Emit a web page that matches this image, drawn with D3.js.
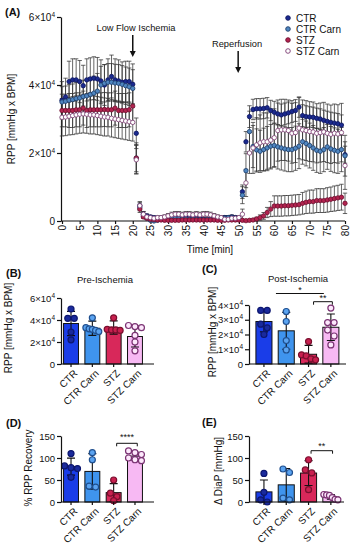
<!DOCTYPE html>
<html><head><meta charset="utf-8">
<script src="https://cdn.jsdelivr.net/npm/d3@7"></script>
<style>
body{margin:0;background:#fff}
svg{display:block}
text{font-family:"Liberation Sans",Arial,sans-serif;fill:#111}
</style>
</head><body>
<svg id="c" width="362" height="550"></svg>
<script>
// ---------------- DATA ----------------
// Panel A: RPP in units of 10^4 mmHg x BPM, one value per minute
const times = [0,1,2,3,4,5,6,7,8,9,10,11,12,13,14,15,16,17,18,19,20,21,22,23,24,25,26,27,28,29,30,31,32,33,34,35,36,37,38,39,40,41,42,43,44,45,46,47,48,49,50,51,52,53,54,55,56,57,58,59,60,61,62,63,64,65,66,67,68,69,70,71,72,73,74,75,76,77,78,79,80];
const seriesNames = ["CTR","CTR Carn","STZ","STZ Carn"];
const ctrMean = [3.55,3.65,4.1,4.15,4.15,4.1,3.98,4.15,4.18,4.2,4.18,4.12,4.0,4.15,4.25,4.15,4.12,4.08,4.1,4.1,4.02,
  2.58,0.45,
  0.2,0.15,0.12,0.1,0.08,0.08,0.07,0.08,0.1,0.12,0.12,0.1,0.1,0.1,0.08,0.08,0.08,0.05,0.05,0.06,0.05,0.05,0.08,0.1,0.1,0.12,0.1,0.08,
  0.86,2.33,3.07,3.28,3.3,3.3,3.31,3.33,3.25,3.2,3.15,3.12,3.15,3.18,3.22,3.25,3.35,3.1,3.07,3.06,3.05,3.02,3.0,2.96,2.93,2.9,2.88,2.86,2.82,1.95];
const ctrSD = [0.55,0.55,0.6,0.62,0.62,0.62,0.6,0.62,0.62,0.63,0.63,0.62,0.6,0.62,0.63,0.62,0.62,0.6,0.6,0.6,0.6,
  0.45,0.1,
  0.08,0.06,0.05,0.05,0.05,0.05,0.05,0.05,0.06,0.06,0.06,0.06,0.06,0.06,0.05,0.05,0.05,0.04,0.04,0.04,0.04,0.04,0.05,0.06,0.06,0.06,0.06,0.05,
  0.2,0.3,0.32,0.3,0.3,0.3,0.3,0.3,0.3,0.32,0.32,0.32,0.32,0.32,0.32,0.32,0.3,0.32,0.32,0.3,0.3,0.3,0.3,0.3,0.3,0.3,0.3,0.3,0.3,0.25];
const ctrCarnMean = [3.5,3.52,3.55,3.57,3.6,3.62,3.66,3.68,3.72,3.76,3.82,4.0,4.05,4.08,4.08,4.06,4.05,4.02,3.98,3.95,3.9,
  1.85,0.4,
  0.15,0.08,0.02,0.0,0.02,0.05,0.05,0.06,0.08,0.08,0.07,0.06,0.06,0.05,0.05,0.05,0.04,0.04,0.05,0.05,0.05,0.05,0.06,0.08,0.1,0.1,0.08,0.06,
  0.76,1.48,2.63,2.19,2.09,2.05,2.1,2.15,2.2,2.22,2.18,2.15,2.12,2.1,2.1,2.14,2.2,2.33,2.28,2.22,2.15,2.08,2.05,2.1,2.18,2.12,2.08,2.05,2.1,1.92];
const ctrCarnSD = [0.45,0.45,0.46,0.46,0.47,0.47,0.48,0.48,0.5,0.5,0.52,0.55,0.55,0.55,0.55,0.55,0.55,0.55,0.55,0.55,0.55,
  0.4,0.1,
  0.06,0.04,0.02,0.02,0.02,0.03,0.03,0.03,0.04,0.04,0.04,0.03,0.03,0.03,0.03,0.03,0.03,0.03,0.03,0.03,0.03,0.03,0.03,0.04,0.05,0.05,0.04,0.03,
  0.25,0.5,0.6,0.62,0.62,0.62,0.63,0.63,0.64,0.64,0.65,0.65,0.65,0.65,0.65,0.65,0.66,0.66,0.66,0.66,0.66,0.65,0.65,0.65,0.66,0.66,0.66,0.65,0.65,0.6];
const stzMean = [3.25,3.25,3.25,3.25,3.27,3.27,3.32,3.25,3.27,3.27,3.27,3.27,3.28,3.27,3.27,3.32,3.25,3.25,3.25,3.27,3.38,
  1.85,0.35,
  0.12,0.08,0.05,0.04,0.03,0.03,0.02,0.02,0.02,0.02,0.02,0.03,0.03,0.03,0.03,0.03,0.03,0.03,0.03,0.03,0.03,0.02,0.02,0.02,0.03,0.03,0.03,0.03,
  0.02,0.01,0.02,0.03,0.06,0.1,0.15,0.25,0.35,0.44,0.44,0.44,0.45,0.45,0.46,0.47,0.48,0.52,0.55,0.57,0.57,0.6,0.6,0.6,0.62,0.64,0.66,0.68,0.7,0.52];
const stzSD = [0.48,0.48,0.5,0.5,0.5,0.5,0.5,0.5,0.5,0.5,0.5,0.5,0.5,0.5,0.5,0.5,0.5,0.5,0.5,0.5,0.5,
  0.45,0.1,
  0.04,0.03,0.02,0.02,0.02,0.02,0.02,0.02,0.02,0.02,0.02,0.02,0.02,0.02,0.02,0.02,0.02,0.02,0.02,0.02,0.02,0.02,0.02,0.02,0.02,0.02,0.02,0.02,
  0.02,0.01,0.02,0.03,0.05,0.08,0.1,0.15,0.22,0.3,0.3,0.3,0.3,0.3,0.3,0.3,0.3,0.32,0.33,0.34,0.34,0.35,0.35,0.35,0.36,0.36,0.37,0.37,0.38,0.3];
const stzCarnMean = [3.05,3.06,3.08,3.1,3.12,3.14,3.15,3.14,3.12,3.12,3.1,3.08,3.06,3.05,3.02,3.0,2.98,2.96,2.94,2.92,2.9,
  1.8,0.45,
  0.2,0.12,0.1,0.08,0.1,0.1,0.12,0.15,0.18,0.2,0.2,0.18,0.2,0.2,0.18,0.2,0.18,0.2,0.2,0.18,0.15,0.12,0.1,0.05,0.05,0.08,0.08,0.1,
  0.2,1.12,2.0,2.15,2.24,2.3,2.33,2.33,2.38,2.45,2.66,2.68,2.68,2.66,2.58,2.6,2.73,2.68,2.66,2.63,2.62,2.58,2.6,2.62,2.58,2.55,2.58,2.56,2.6,1.63];
const stzCarnSD = [0.55,0.55,0.55,0.56,0.56,0.56,0.56,0.56,0.56,0.56,0.56,0.56,0.56,0.55,0.55,0.55,0.55,0.55,0.55,0.55,0.55,
  0.42,0.12,
  0.08,0.06,0.05,0.05,0.05,0.05,0.06,0.07,0.08,0.08,0.08,0.08,0.08,0.08,0.08,0.08,0.08,0.08,0.08,0.08,0.07,0.06,0.05,0.04,0.04,0.05,0.05,0.05,
  0.15,0.4,0.6,0.75,0.8,0.82,0.85,0.85,0.85,0.85,0.9,0.9,0.9,0.9,0.88,0.88,0.9,0.88,0.88,0.88,0.88,0.87,0.87,0.87,0.86,0.86,0.86,0.86,0.86,0.7];
const xTicksA = [0,5,10,15,20,25,30,35,40,45,50,55,60,65,70,75,80];
const yTicksA = [0,2,4,6];

// Panels B-E
const groups = ["CTR","CTR Carn","STZ","STZ Carn"];
// B: Pre-Ischemia RPP (x10^4)
const preMean = [3.68,3.25,3.32,2.5];
const preSD = [1.1,0.65,0.6,0.95];
const preDots = [[5.0,4.15,4.15,2.9,2.2],[4.2,3.3,3.2,3.15,3.05,2.95],[4.2,3.15,3.1,3.1,3.05],[3.5,3.4,3.3,2.6,2.0,1.2]];
const yTicksB = [0,2,4,6];
// C: Post-Ischemia RPP (x10^4)
const postMean = [2.88,2.25,0.66,2.49];
const postSD = [0.7,1.25,0.6,0.9];
const postDots = [[3.63,3.63,2.7,2.45,2.0],[3.56,2.88,1.59,0.95],[1.52,0.62,0.55,0.35,0.28],[3.79,2.81,2.81,2.3,1.9,1.29]];
const yTicksC = [0,1,2,3,4];
// D: % RPP Recovery
const recMean = [80.4,69.5,21.3,104.3];
const recSD = [19.4,40.4,20.4,8.6];
const recDots = [[110,82,78,76,56],[112,96,36,34],[50,20,12,3],[116,112,108,100,96,94]];
// E: Delta DiaP
const diaMean = [23,39,65.8,11.5];
const diaSD = [27,37,28.2,5.2];
const diaDots = [[65,22,5,0],[75,67,9,5],[96,73,66,28],[17,16,15,10,6,5]];
const yTicksDE = [0,50,100,150];

// ---------------- STYLE ----------------
const FF = '"Liberation Sans",Arial,sans-serif';
const mFill = ["#1b2a8f","#4f86c0","#b3234f","#ffffff"];
const mStroke = ["#0d1560","#1d3d6b","#6d1030","#7a3a70"];
const barFill = ["#1a3de8","#3f94ee","#d8285a","#f7b9f3"];
const dotFill = ["#1a2a9c","#5aa3f0","#c8204f","#fde8fc"];
const dotStroke = ["#0c1670","#1f4f8f","#7a0f2e","#7b3373"];

const svg = d3.select("#c");

function sci(sel, v){
  sel.text(null);
  if (v === 0) { sel.text("0"); return; }
  sel.append("tspan").text(v + "×10");
  sel.append("tspan").attr("dy", -4).attr("font-size", 6.5).text("4");
}
function styleAxis(g){
  g.attr("font-family", FF).attr("font-size", 9.5);
  g.selectAll("path,line").attr("stroke", "#111").attr("stroke-width", 1.2);
  g.selectAll("text").attr("fill", "#111");
}

// ---------------- PANEL A ----------------
const xA = d3.scaleLinear().domain([0,80]).range([62,345]);
const yA = d3.scaleLinear().domain([0,6]).range([221,17]);
const AX0 = 61;

const gyA = svg.append("g").attr("transform", `translate(${AX0},0)`)
  .call(d3.axisLeft(yA).tickValues(yTicksA).tickSize(4).tickSizeOuter(0).tickPadding(2));
styleAxis(gyA);
gyA.attr("font-size", 10);
gyA.selectAll(".tick text").each(function(d){ sci(d3.select(this), d); });

const gxA = svg.append("g").attr("transform", `translate(0,${yA(0)})`)
  .call(d3.axisBottom(xA).tickValues(xTicksA).tickSize(3).tickSizeOuter(0));
styleAxis(gxA);
gxA.attr("font-size", 10);
gxA.select(".domain").attr("d", `M${AX0},0H${xA(80)}`);
gxA.selectAll(".tick text").attr("transform","rotate(-90)").attr("text-anchor","end")
  .attr("x",-4).attr("y",0).attr("dy","0.35em");

const seriesA = [
  {m: ctrMean, s: ctrSD},
  {m: ctrCarnMean, s: ctrCarnSD},
  {m: stzMean, s: stzSD},
  {m: stzCarnMean, s: stzCarnSD}
];
const errG = svg.append("g").attr("stroke","#333").attr("stroke-width",0.75).attr("fill","none");
seriesA.forEach(ser => {
  times.forEach((t,i) => {
    const x = xA(t), top = yA(ser.m[i] + ser.s[i]), bot = yA(Math.max(0, ser.m[i] - ser.s[i]));
    errG.append("path").attr("d", `M${x},${top}V${bot}M${x-2.2},${top}H${x+2.2}M${x-2.2},${bot}H${x+2.2}`);
  });
});
seriesA.forEach((ser, k) => {
  svg.append("g").selectAll("circle").data(times).join("circle")
    .attr("cx", t => xA(t)).attr("cy", (t,i) => yA(ser.m[i])).attr("r", 2.2)
    .attr("fill", mFill[k]).attr("stroke", mStroke[k]).attr("stroke-width", 0.8);
});

// legend
seriesNames.forEach((n,k) => {
  const y = 18 + 11*k;
  svg.append("circle").attr("cx",288).attr("cy",y).attr("r",2.3)
    .attr("fill",mFill[k]).attr("stroke",mStroke[k]).attr("stroke-width",0.9);
  svg.append("text").attr("x",296).attr("y",y).attr("dy","0.36em").attr("font-size",10).text(n);
});

// annotations
function arrow(x, y1, y2){
  svg.append("line").attr("x1",x).attr("x2",x).attr("y1",y1).attr("y2",y2-5)
    .attr("stroke","#111").attr("stroke-width",1.5);
  svg.append("path").attr("d",`M${x-3},${y2-6}L${x+3},${y2-6}L${x},${y2}Z`).attr("fill","#111");
}
svg.append("text").attr("x",136).attr("y",31).attr("text-anchor","middle").attr("font-size",9.3).text("Low Flow Ischemia");
arrow(xA(20), 35, 57);
svg.append("text").attr("x",237).attr("y",47).attr("text-anchor","middle").attr("font-size",9.3).text("Reperfusion");
arrow(xA(49.8), 51, 73);

svg.append("text").attr("transform","translate(15,119) rotate(-90)").attr("text-anchor","middle")
  .attr("font-size",10).text("RPP [mmHg x BPM]");
svg.append("text").attr("x",210).attr("y",253).attr("text-anchor","middle").attr("font-size",10).text("Time [min]");
svg.append("text").attr("x",5).attr("y",16).attr("font-size",11).attr("font-weight","bold").text("(A)");

// ---------------- BAR PANELS ----------------
function barPanel(o){
  const x = d3.scaleBand().domain(groups).range(o.xr).paddingInner(o.pi).paddingOuter(o.po);
  const y = d3.scaleLinear().domain(o.yd).range(o.yr);
  const bw = x.bandwidth();
  const cx = g => x(g) + bw/2;
  const y0 = y(0);

  groups.forEach((g,k) => {
    svg.append("rect").attr("x", x(g)).attr("y", y(o.mean[k])).attr("width", bw)
      .attr("height", y0 - y(o.mean[k])).attr("fill", barFill[k]).attr("stroke","#111").attr("stroke-width",1);
  });
  groups.forEach((g,k) => {
    const c = cx(g), top = y(o.mean[k] + o.sd[k]), bot = y(Math.max(0, o.mean[k] - o.sd[k]));
    svg.append("path").attr("d", `M${c},${top}V${bot}M${c-4},${top}H${c+4}M${c-4},${bot}H${c+4}`)
      .attr("stroke","#111").attr("stroke-width",1.1).attr("fill","none");
  });
  const r = 3;
  groups.forEach((g,k) => {
    const vals = o.dots[k].slice().sort((a,b) => b-a);
    const rows = [];
    vals.forEach(v => {
      const yy = y(v);
      const last = rows[rows.length-1];
      if (last && yy - last.y0 < 2*r) last.items.push(yy); else rows.push({y0: yy, items: [yy]});
    });
    rows.forEach(row => {
      const n = row.items.length;
      const s = n > 1 ? Math.min(6.5, (bw - 2) / (n - 1)) : 0;
      row.items.forEach((yy,j) => {
        svg.append("circle").attr("cx", cx(g) + (j - (n-1)/2) * s).attr("cy", yy).attr("r", r)
          .attr("fill", dotFill[k]).attr("stroke", dotStroke[k]).attr("stroke-width", 1.2);
      });
    });
  });
  const gy = svg.append("g").attr("transform", `translate(${o.xr[0]},0)`)
    .call(d3.axisLeft(y).tickValues(o.ticks).tickSize(4).tickSizeOuter(0).tickPadding(2));
  styleAxis(gy);
  if (o.sci) gy.selectAll(".tick text").each(function(d){ sci(d3.select(this), d); });

  const gx = svg.append("g").attr("transform", `translate(0,${y0})`);
  gx.append("path").attr("d", `M${o.xr[0]},0H${o.xEnd}`).attr("stroke","#111").attr("stroke-width",1.2);
  groups.forEach(g => {
    gx.append("line").attr("x1",cx(g)).attr("x2",cx(g)).attr("y1",0).attr("y2",3)
      .attr("stroke","#111").attr("stroke-width",1.2);
    gx.append("text").attr("transform", `translate(${cx(g)+7},10) rotate(-45)`)
      .attr("text-anchor","end").attr("font-size",10).text(g);
  });
  svg.append("text").attr("transform", `translate(${o.yt[0]},${o.yt[1]}) rotate(-90)`)
    .attr("text-anchor","middle").attr("font-size",10).text(o.ytitle);
  svg.append("text").attr("x", o.letter[0]).attr("y", o.letter[1]).attr("font-size",11)
    .attr("font-weight","bold").text(o.letterText);
  if (o.title) svg.append("text").attr("x", o.title[0]).attr("y", o.title[1])
    .attr("text-anchor","middle").attr("font-size",9.5).text(o.title[2]);
  (o.sig || []).forEach(sg => {
    const x1 = cx(sg.a) + sg.da, x2 = cx(sg.b) + sg.db;
    const d = sg.bracket ? `M${x1},${sg.y+3}V${sg.y}H${x2}V${sg.y+3}` : `M${x1},${sg.y}H${x2}`;
    svg.append("path").attr("d", d).attr("stroke","#111").attr("stroke-width",1).attr("fill","none");
    svg.append("text").attr("x",(x1+x2)/2).attr("y", sg.y + sg.ty).attr("text-anchor","middle")
      .attr("font-size",9).text(sg.label);
  });
}

barPanel({xr:[61,145], xEnd:154, pi:0.3, po:0.12, yd:[0,6], yr:[364,298], ticks:yTicksB, sci:true,
  mean:preMean, sd:preSD, dots:preDots, ytitle:"RPP [mmHg x BPM]", yt:[12,328],
  letter:[6,277], letterText:"(B)", title:[105,282.5,"Pre-Ischemia"]});
barPanel({xr:[249,345.8], xEnd:346, pi:0.28, po:0.31, yd:[0,4], yr:[364,305], ticks:yTicksC, sci:true,
  mean:postMean, sd:postSD, dots:postDots, ytitle:"RPP [mmHg x BPM]", yt:[216,332],
  letter:[202,273], letterText:"(C)", title:[298,282,"Post-Ischemia"],
  sig:[{a:"CTR", b:"STZ Carn", da:12, db:-7, y:293.5, ty:-0.5, bracket:false, label:"*"},
       {a:"STZ", b:"STZ Carn", da:5, db:1.5, y:301.7, ty:-0.5, bracket:true, label:"**"}]});
barPanel({xr:[61,145], xEnd:154, pi:0.3, po:0.12, yd:[0,150], yr:[502,436], ticks:yTicksDE, sci:false,
  mean:recMean, sd:recSD, dots:recDots, ytitle:"% RPP Recovery", yt:[32,468],
  letter:[6,427], letterText:"(D)",
  sig:[{a:"STZ", b:"STZ Carn", da:3, db:2.3, y:443.3, ty:-3, bracket:true, label:"****"}]});
barPanel({xr:[249,345.8], xEnd:344, pi:0.28, po:0.31, yd:[0,150], yr:[502,436], ticks:yTicksDE, sci:false,
  mean:diaMean, sd:diaSD, dots:diaDots, ytitle:"Δ DiaP [mmHg]", yt:[222,471],
  letter:[202,426], letterText:"(E)",
  sig:[{a:"STZ", b:"STZ Carn", da:2.5, db:1.7, y:450.7, ty:-2, bracket:true, label:"**"}]});
</script>
</body></html>
